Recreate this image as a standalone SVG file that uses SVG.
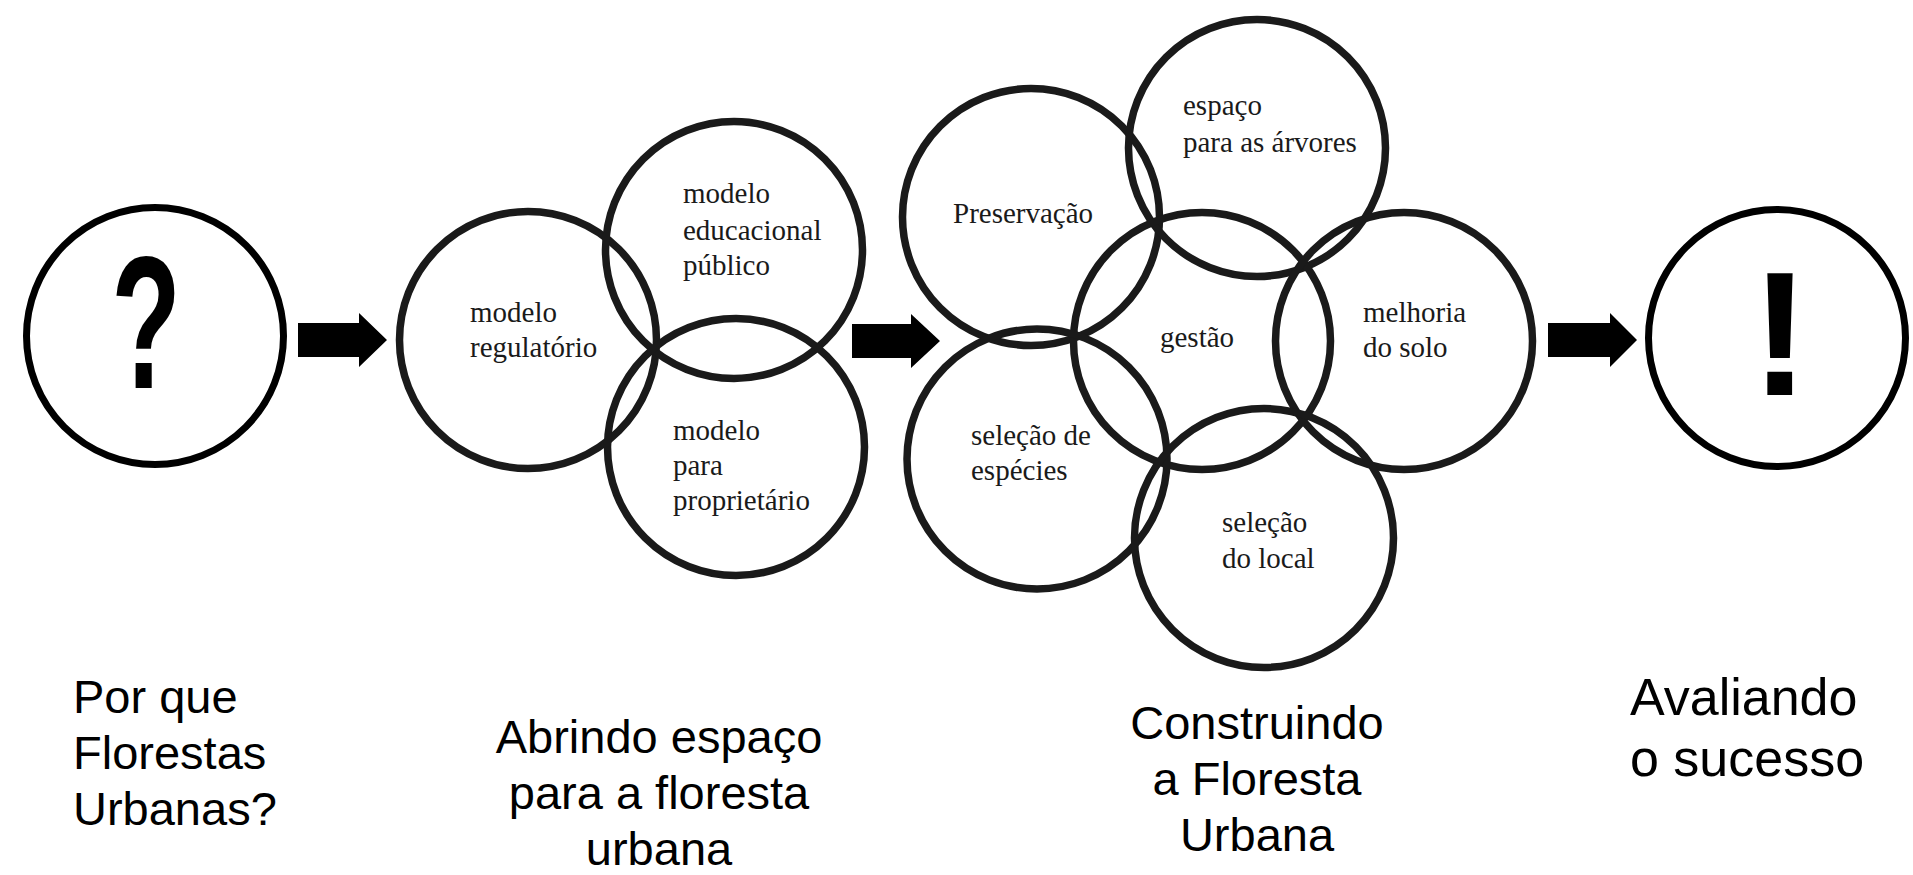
<svg xmlns="http://www.w3.org/2000/svg" width="1913" height="875" viewBox="0 0 1913 875">
<style>
.c{fill:none;stroke:#1a1a1a;stroke-width:7.5}
.k{fill:none;stroke:#000;stroke-width:7}
.t{font-family:"Liberation Serif","Times New Roman",serif;font-size:29px;fill:#1a1a1a}
.b{font-family:"Liberation Sans",Arial,sans-serif;font-size:47px;fill:#000}
.g{font-family:"Liberation Sans",Arial,sans-serif;font-weight:bold;font-size:176px;fill:#000}
.a{fill:#000}
</style>
<rect width="1913" height="875" fill="#fff"/>
<g id="connectors">
<polygon class="a" points="298,323 359,323 359,313 387,340 359,367 359,357 298,357"/>
<polygon class="a" points="852,324 911,324 911,314 940,341 911,368 911,358 852,358"/>
<polygon class="a" points="1548,323 1610,323 1610,313 1637,340 1610,367 1610,357 1548,357"/>
</g>
<g id="node-question">
<circle class="k" cx="155" cy="336" r="128.5"/>
<text class="g" style="font-size:190px" text-anchor="middle" transform="translate(146,388) scale(0.6,1)">?</text>
</g>
<g id="node-regulatorio">
<circle class="c" cx="528" cy="340" r="128.5"/>
<text class="t" x="470" y="322">modelo</text>
<text class="t" x="470" y="357">regulatório</text>
</g>
<g id="node-educacional">
<circle class="c" cx="734" cy="250" r="128.5"/>
<text class="t" x="683" y="203">modelo</text>
<text class="t" x="683" y="240">educacional</text>
<text class="t" x="683" y="275">público</text>
</g>
<g id="node-proprietario">
<circle class="c" cx="736" cy="447" r="128.5"/>
<text class="t" x="673" y="440">modelo</text>
<text class="t" x="673" y="475">para</text>
<text class="t" x="673" y="510">proprietário</text>
</g>
<g id="node-preservacao">
<circle class="c" cx="1031" cy="217" r="128.5"/>
<text class="t" x="953" y="223">Preservação</text>
</g>
<g id="node-espaco">
<circle class="c" cx="1257" cy="148" r="128.5"/>
<text class="t" x="1183" y="115">espaço</text>
<text class="t" x="1183" y="152">para as árvores</text>
</g>
<g id="node-gestao">
<circle class="c" cx="1202" cy="341" r="128.5"/>
<text class="t" x="1160" y="347">gestão</text>
</g>
<g id="node-melhoria">
<circle class="c" cx="1404" cy="341" r="128.5"/>
<text class="t" x="1363" y="322">melhoria</text>
<text class="t" x="1363" y="357">do solo</text>
</g>
<g id="node-selecao-especies">
<circle class="c" cx="1037" cy="459" r="130"/>
<text class="t" x="971" y="445">seleção de</text>
<text class="t" x="971" y="480">espécies</text>
</g>
<g id="node-selecao-local">
<circle class="c" cx="1264" cy="538" r="129.5"/>
<text class="t" x="1222" y="532">seleção</text>
<text class="t" x="1222" y="568">do local</text>
</g>
<g id="node-exclamation">
<circle class="k" cx="1777" cy="338" r="128.5"/>
<text class="g" text-anchor="middle" x="1780" y="395">!</text>
</g>
<g id="label-porque">
<text class="b" x="73" y="713">Por que</text>
<text class="b" x="73" y="769">Florestas</text>
<text class="b" x="73" y="825">Urbanas?</text>
</g>
<g id="label-abrindo">
<text class="b" text-anchor="middle" x="659" y="753">Abrindo espaço</text>
<text class="b" text-anchor="middle" x="659" y="809">para a floresta</text>
<text class="b" text-anchor="middle" x="659" y="865">urbana</text>
</g>
<g id="label-construindo">
<text class="b" text-anchor="middle" x="1257" y="739">Construindo</text>
<text class="b" text-anchor="middle" x="1257" y="795">a Floresta</text>
<text class="b" text-anchor="middle" x="1257" y="851">Urbana</text>
</g>
<g id="label-avaliando">
<text class="b" style="font-size:52px" x="1630" y="715">Avaliando</text>
<text class="b" style="font-size:52px" x="1630" y="776">o sucesso</text>
</g>
</svg>
